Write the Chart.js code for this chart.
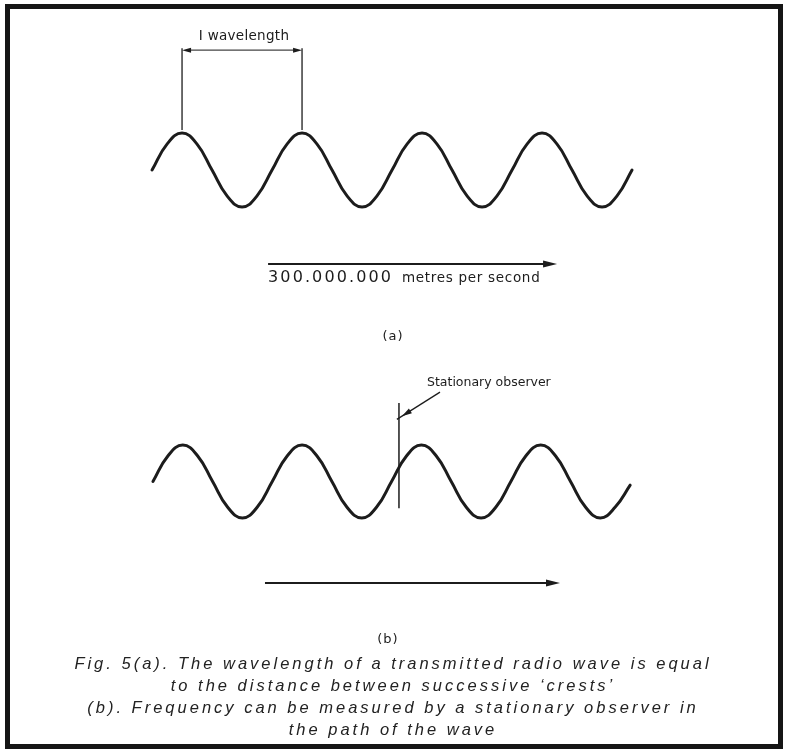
<!DOCTYPE html>
<html>
<head>
<meta charset="utf-8">
<script src="https://cdn.jsdelivr.net/npm/chart.js@4.4.1/dist/chart.umd.min.js"></script>
<style>
  html, body { margin: 0; padding: 0; background: #fff; }
  body { width: 786px; height: 750px; position: relative; overflow: hidden; }
  #frame {
    position: absolute; left: 5px; top: 4px; width: 768px; height: 735px;
    border: 5.5px solid #151515;
  }
  #chart { position: absolute; left: 0; top: 0; }
  #caption {
    position: absolute; left: 0; top: 652px; width: 786px;
    text-align: center; color: #222;
    font: italic 16.5px "Liberation Sans", Arial, sans-serif;
    letter-spacing: 3px; line-height: 22px;
  }
</style>
</head>
<body>
<div id="frame"></div>
<canvas id="chart" width="786" height="750"></canvas>
<div id="caption">
  Fig. 5(a). The wavelength of a transmitted radio wave is equal<br>
  to the distance between successive ‘crests’<br>
  (b). Frequency can be measured by a stationary observer in<br>
  the path of the wave
</div>
<script>
  "use strict";

  // position along the wave, in wavelengths (eighth-wave steps)
  const waveX = [
    0, 0.125, 0.25, 0.375, 0.5, 0.625, 0.75, 0.875,
    1, 1.125, 1.25, 1.375, 1.5, 1.625, 1.75, 1.875,
    2, 2.125, 2.25, 2.375, 2.5, 2.625, 2.75, 2.875,
    3, 3.125, 3.25, 3.375, 3.5, 3.625, 3.75, 3.875,
    4,
  ];

  // displacement (crest = 1, trough = -1)
  const waveA = [
    0, 0.7, 1, 0.7, 0, -0.7, -1, -0.7,
    0, 0.7, 1, 0.7, 0, -0.7, -1, -0.7,
    0, 0.7, 1, 0.7, 0, -0.7, -1, -0.7,
    0, 0.7, 1, 0.7, 0, -0.7, -1, -0.7,
    0,
  ];
  const waveB = [
    0, 0.7, 1, 0.7, 0, -0.7, -1, -0.7,
    0, 0.7, 1, 0.7, 0, -0.7, -1, -0.7,
    0, 0.7, 1, 0.7, 0, -0.7, -1, -0.7,
    0, 0.7, 1, 0.7, 0, -0.7, -1, -0.7,
    -0.1,
  ];

  const textA = ["I wavelength", "300.000.000", "metres per second", "(a)"];
  const textB = ["Stationary observer", "(b)"];

  const ink = "#1c1c1c";

  const headAt = (ctx, x, y, angle, len, half) => {
    ctx.save();
    ctx.translate(x, y);
    ctx.rotate(angle);
    ctx.beginPath();
    ctx.moveTo(0, 0);
    ctx.lineTo(-len, -half);
    ctx.lineTo(-len, half);
    ctx.closePath();
    ctx.fill();
    ctx.restore();
  };

  const line = (ctx, x1, y1, x2, y2, w) => {
    ctx.lineWidth = w;
    ctx.beginPath();
    ctx.moveTo(x1, y1);
    ctx.lineTo(x2, y2);
    ctx.stroke();
  };

  const notes = {
    id: "notes",
    afterDatasetsDraw(chart) {
      const ctx = chart.ctx;
      const s = chart.scales;
      ctx.save();
      ctx.strokeStyle = ink;
      ctx.fillStyle = ink;
      ctx.lineCap = "butt";

      // (a) one-wavelength bracket between first two crests
      const c1 = s.xa.getPixelForValue(waveX[2]);
      const c2 = s.xa.getPixelForValue(waveX[10]);
      const top = s.ya.getPixelForValue(3.24);
      const foot = s.ya.getPixelForValue(1.08);
      line(ctx, c1, foot, c1, top - 2, 1.3);
      line(ctx, c2, foot, c2, top - 2, 1.3);
      ctx.strokeStyle = "#444";
      line(ctx, c1 + 8, top, c2 - 8, top, 1.1);
      ctx.strokeStyle = ink;
      headAt(ctx, c1, top, Math.PI, 9, 2.5);
      headAt(ctx, c2, top, 0, 9, 2.5);
      ctx.font = "13.5px 'DejaVu Sans'";
      ctx.textAlign = "center";
      ctx.textBaseline = "middle";
      ctx.letterSpacing = "0.3px";
      ctx.fillText(textA[0], (c1 + c2) / 2 + 2, s.ya.getPixelForValue(3.6));

      // (a) propagation arrow
      const a1 = s.xa.getPixelForValue(0.967);
      const a2 = s.xa.getPixelForValue(3.375);
      const ay = s.ya.getPixelForValue(-2.54);
      line(ctx, a1, ay, a2 - 8, ay, 1.8);
      headAt(ctx, a2, ay, 0, 14, 3.5);
      ctx.textAlign = "left";
      ctx.font = "16px 'DejaVu Sans'";
      ctx.letterSpacing = "2.1px";
      ctx.fillText(textA[1], a1, s.ya.getPixelForValue(-2.92));
      ctx.font = "13.5px 'DejaVu Sans'";
      ctx.letterSpacing = "0.7px";
      ctx.fillText(textA[2], s.xa.getPixelForValue(2.083), s.ya.getPixelForValue(-2.94));
      ctx.textAlign = "center";
      ctx.font = "13px 'DejaVu Sans'";
      ctx.letterSpacing = "1px";
      ctx.fillText(textA[3], s.xa.getPixelForValue(2.008), s.ya.getPixelForValue(-4.49));

      // (b) stationary observer
      const ox = s.xb.getPixelForValue(2.062);
      line(ctx, ox, s.yb.getPixelForValue(2.15), ox, s.yb.getPixelForValue(-0.73), 1.5);
      const lx1 = s.xb.getPixelForValue(2.087), ly1 = s.yb.getPixelForValue(1.79);
      const lx2 = s.xb.getPixelForValue(2.406), ly2 = s.yb.getPixelForValue(2.45);
      const ang = Math.atan2(ly1 - ly2, lx1 - lx2);
      line(ctx, lx2, ly2, lx1 + 6 * Math.cos(ang), ly1 + 6 * Math.sin(ang), 1.3);
      headAt(ctx, lx1, ly1, ang, 10, 2.8);
      ctx.textAlign = "left";
      ctx.font = "12.5px 'DejaVu Sans'";
      ctx.letterSpacing = "0px";
      ctx.fillText(textB[0], s.xb.getPixelForValue(2.297), s.yb.getPixelForValue(2.7));

      // (b) propagation arrow
      const b1 = s.xb.getPixelForValue(0.939);
      const b2 = s.xb.getPixelForValue(3.412);
      const by = s.yb.getPixelForValue(-2.78);
      line(ctx, b1, by, b2 - 8, by, 1.8);
      headAt(ctx, b2, by, 0, 14, 3.5);
      ctx.textAlign = "center";
      ctx.font = "13px 'DejaVu Sans'";
      ctx.letterSpacing = "1px";
      ctx.fillText(textB[1], s.xb.getPixelForValue(1.97), s.yb.getPixelForValue(-4.32));
      ctx.restore();
    },
  };

  const waveStyle = {
    borderColor: ink,
    borderWidth: 3,
    pointRadius: 0,
    fill: false,
    tension: 0.45,
    borderCapStyle: "round",
    borderJoinStyle: "round",
  };

  const hidden = (min, max) => ({ type: "linear", display: false, min: min, max: max });

  new Chart(document.getElementById("chart"), {
    type: "line",
    data: {
      datasets: [
        Object.assign({
          data: waveX.map((x, i) => ({ x: x, y: waveA[i] })),
          xAxisID: "xa",
          yAxisID: "ya",
        }, waveStyle),
        Object.assign({
          data: waveX.map((x, i) => ({ x: x, y: waveB[i] })),
          xAxisID: "xb",
          yAxisID: "yb",
        }, waveStyle),
      ],
    },
    options: {
      responsive: false,
      animation: false,
      events: [],
      layout: { padding: 0 },
      plugins: {
        legend: { display: false },
        tooltip: { enabled: false },
        title: { display: false },
      },
      scales: {
        xa: Object.assign(hidden(-1.267, 5.283), { axis: "x", position: "bottom" }),
        xb: Object.assign(hidden(-1.282, 5.306), { axis: "x", position: "bottom" }),
        ya: Object.assign(hidden(-15.676, 4.595), { axis: "y", position: "left" }),
        yb: Object.assign(hidden(-7.356, 13.192), { axis: "y", position: "left" }),
      },
    },
    plugins: [notes],
  });
</script>
</body>
</html>
